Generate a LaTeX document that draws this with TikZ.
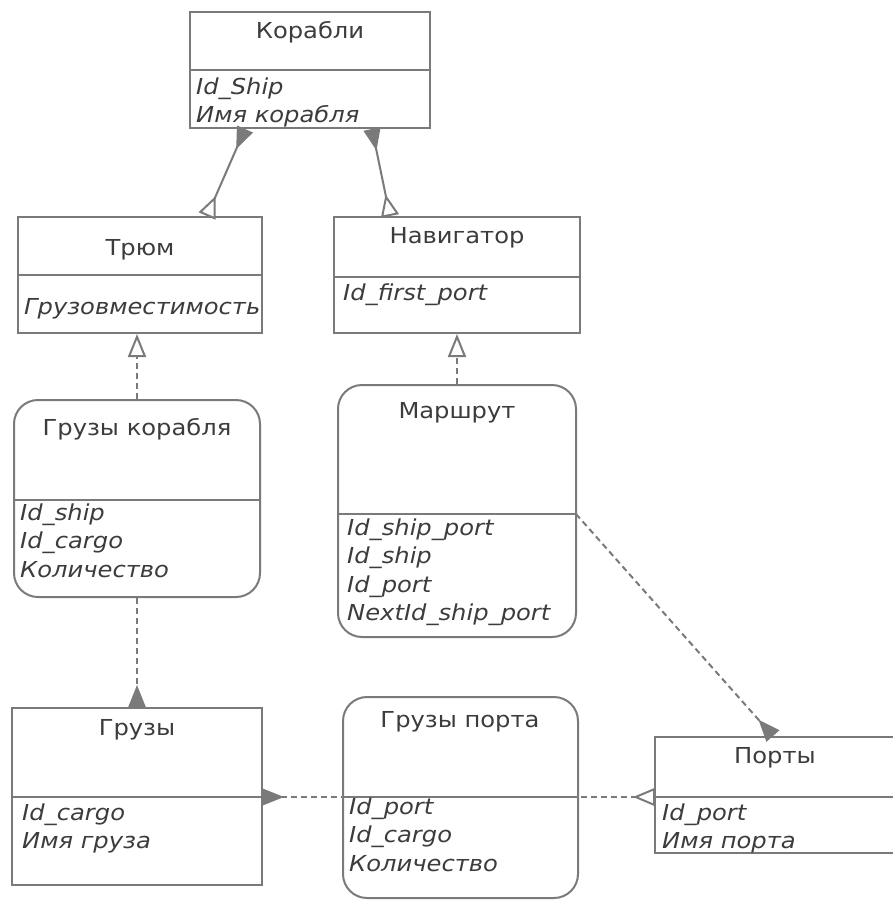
\documentclass[tikz,border=0pt]{standalone}
\usepackage{fontspec}
\setmainfont{DejaVu Sans}[FakeStretch=1.1]
\usetikzlibrary{arrows.meta,calc}
\definecolor{ln}{HTML}{7A7A7A}
\definecolor{tx}{HTML}{3C3C3C}
\tikzset{
  box/.style={draw=ln, line width=2pt, rectangle, inner sep=0pt},
  rbox/.style={box, rounded corners=24pt},
  sep/.style={draw=ln, line width=2pt},
  ttl/.style={font=\fontsize{22}{27}\selectfont, text=tx, anchor=base, inner sep=0pt},
  attr/.style={font=\fontsize{22}{27}\selectfont\itshape, text=tx, anchor=base west, inner sep=0pt},
  conn/.style={draw=ln, line width=2pt},
  dconn/.style={conn, dash pattern=on 6pt off 4pt},
  fullR/.tip={Triangle[reversed, length=22pt, width=17pt, fill=ln]},
  openR/.tip={Triangle[reversed, open, length=22pt, width=18pt, fill=white]},
  openT/.tip={Triangle[open, length=23pt, width=18pt, fill=white]}
}
\newcommand\attrlines[4]{%
  \foreach \t [count=\i] in {#4} {\node[attr] (#1\i) at (#2, {#3+(\i-1)*28.5}) {\t};}}
\begin{document}
\begin{tikzpicture}[x=1pt,y=-1pt]
\useasboundingbox (0,0) rectangle (893,900);

% boxes
\node[box, minimum width=240pt, minimum height=116pt] (kor) at (310,70) {};
\node[box, minimum width=244pt, minimum height=116pt] (trum) at (140,275) {};
\node[box, minimum width=246pt, minimum height=116pt] (nav) at (457,275) {};
\node[rbox, minimum width=246pt, minimum height=197pt] (gk) at (137,498.5) {};
\node[rbox, minimum width=238pt, minimum height=252pt] (mar) at (457,511) {};
\node[box, minimum width=250pt, minimum height=177pt] (gr) at (137,796.5) {};
\node[rbox, minimum width=235pt, minimum height=201pt] (gp) at (460.5,797.5) {};
\node[box, minimum width=242pt, minimum height=116pt] (port) at (776,795) {};

% separators
\coordinate (korL) at (190,70);  \coordinate (korR) at (430,70);
\coordinate (trL) at (18,275);   \coordinate (trR) at (262,275);
\coordinate (navL) at (334,277); \coordinate (navR) at (580,277);
\coordinate (gkL) at (14,500);   \coordinate (gkR) at (260,500);
\coordinate (marL) at (338,514); \coordinate (marR) at (576,514);
\coordinate (grL) at (12,797);   \coordinate (grR) at (262,797);
\coordinate (gpL) at (343,797);  \coordinate (gpR) at (578,797);
\coordinate (poL) at (655,797);  \coordinate (poR) at (897,797);
\foreach \a in {kor,tr,nav,gk,mar,gr,gp,po} {\draw[sep] (\a L) -- (\a R);}

% titles
\node[ttl] (korT) at (310,38) {Корабли};
\node[ttl] (trT) at (140,255) {Трюм};
\node[ttl] (navT) at (457,243) {Навигатор};
\node[ttl] (gkT) at (137,435) {Грузы корабля};
\node[ttl] (marT) at (457,418) {Маршрут};
\node[ttl] (grT) at (137,735) {Грузы};
\node[ttl] (gpT) at (460,727) {Грузы порта};
\node[ttl] (poT) at (775,763) {Порты};

% attributes
\attrlines{korA}{196}{94}{Id\_Ship,Имя корабля}
\attrlines{trA}{24}{314}{Грузовместимость}
\attrlines{navA}{343}{300}{Id\_first\_port}
\attrlines{gkA}{20}{520}{Id\_ship,Id\_cargo,Количество}
\attrlines{marA}{347}{535}{Id\_ship\_port,Id\_ship,Id\_port,NextId\_ship\_port}
\attrlines{grA}{22}{820}{Id\_cargo,Имя груза}
\attrlines{gpA}{349}{814}{Id\_port,Id\_cargo,Количество}
\attrlines{poA}{662}{820}{Id\_port,Имя порта}

% connectors
\draw[conn, {openR}-{fullR}] ([xshift=67pt]trum.north) -- ([xshift=-65pt]kor.south);
\draw[conn, {openR}-{fullR}] ([xshift=-67pt]nav.north) -- ([xshift=62pt]kor.south);
\draw[dconn, -{openT}] (gk.north) -- (gk.north |- trum.south);
\draw[dconn, -{openT}] (mar.north) -- (nav.south);
\draw[dconn, -{fullR}] (gk.south) -- (gk.south |- gr.north);
\draw[dconn, -{fullR}] (marR) -- ([xshift=-3pt]port.north);
\draw[dconn, {fullR}-{openR}] (grR) -- (poL);
\end{tikzpicture}
\end{document}
